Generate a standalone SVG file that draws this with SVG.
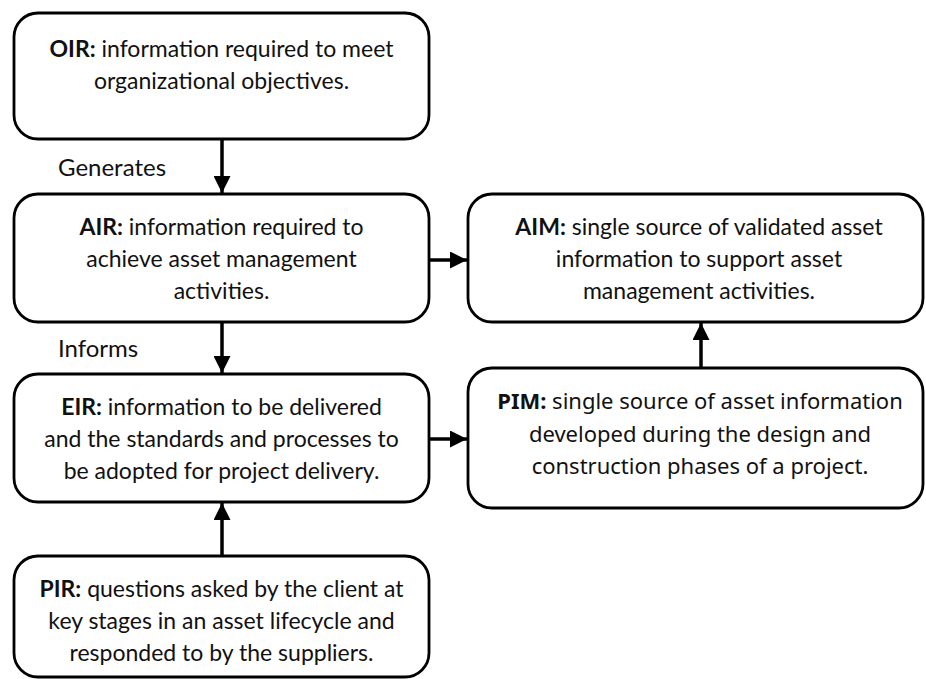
<svg xmlns="http://www.w3.org/2000/svg" width="926" height="679" viewBox="0 0 926 679">
<defs>
<style>
.box{fill:#fff;stroke:#000;stroke-width:2.8}
.t{font-family:Lato,"Liberation Sans",sans-serif;font-size:23px;fill:#111;text-anchor:middle}
.t2{font-family:"Noto Sans","Liberation Sans",sans-serif;font-size:22px;fill:#111;text-anchor:middle}
.b{font-weight:bold}
.lbl{font-family:Lato,"Liberation Sans",sans-serif;font-size:24px;fill:#111}
.c{stroke:#000;stroke-width:3.5;fill:none}
</style>
<marker id="ah" markerUnits="userSpaceOnUse" markerWidth="17" markerHeight="17" viewBox="0 0 17 17" refX="17" refY="8.5" orient="auto">
<path d="M0,0 L17,8.5 L0,17 Z" fill="#000"/>
</marker>
</defs>
<rect width="926" height="679" fill="#fff"/>
<g id="connectors">
<line class="c" x1="222" y1="139" x2="222" y2="193" marker-end="url(#ah)"/>
<line class="c" x1="222" y1="322" x2="222" y2="373" marker-end="url(#ah)"/>
<line class="c" x1="429" y1="260" x2="467" y2="260" marker-end="url(#ah)"/>
<line class="c" x1="429" y1="439" x2="467" y2="439" marker-end="url(#ah)"/>
<line class="c" x1="701" y1="368" x2="701" y2="323" marker-end="url(#ah)"/>
<line class="c" x1="222" y1="556" x2="222" y2="503" marker-end="url(#ah)"/>
</g>
<g id="label-generates"><text class="lbl" x="58" y="176">Generates</text></g>
<g id="label-informs"><text class="lbl" x="58" y="357">Informs</text></g>
<g id="OIR">
<rect class="box" x="14" y="13" width="415" height="126" rx="24"/>
<text class="t" x="221.5" y="57"><tspan class="b">OIR:</tspan> information required to meet</text>
<text class="t" x="221.5" y="89">organizational objectives.</text>
</g>
<g id="AIR">
<rect class="box" x="14" y="194" width="415" height="128" rx="24"/>
<text class="t" x="221.5" y="235"><tspan class="b">AIR:</tspan> information required to</text>
<text class="t" x="221.5" y="267">achieve asset management</text>
<text class="t" x="221.5" y="299">activities.</text>
</g>
<g id="EIR">
<rect class="box" x="14" y="374" width="415" height="128" rx="24"/>
<text class="t" x="221.5" y="415"><tspan class="b">EIR:</tspan> information to be delivered</text>
<text class="t" x="221.5" y="447">and the standards and processes to</text>
<text class="t" x="221.5" y="479">be adopted for project delivery.</text>
</g>
<g id="PIR">
<rect class="box" x="14" y="556" width="415" height="121" rx="24"/>
<text class="t" x="221.5" y="597"><tspan class="b">PIR:</tspan> questions asked by the client at</text>
<text class="t" x="221.5" y="629">key stages in an asset lifecycle and</text>
<text class="t" x="221.5" y="661">responded to by the suppliers.</text>
</g>
<g id="AIM">
<rect class="box" x="468" y="194" width="455" height="128" rx="24"/>
<text class="t" x="699" y="235"><tspan class="b">AIM:</tspan> single source of validated asset</text>
<text class="t" x="699" y="267">information to support asset</text>
<text class="t" x="699" y="299">management activities.</text>
</g>
<g id="PIM">
<rect class="box" x="468" y="368" width="455" height="140" rx="24"/>
<text class="t2" x="700" y="409"><tspan class="b">PIM:</tspan> single source of asset information</text>
<text class="t2" x="700" y="442">developed during the design and</text>
<text class="t2" x="700" y="474">construction phases of a project.</text>
</g>
</svg>
